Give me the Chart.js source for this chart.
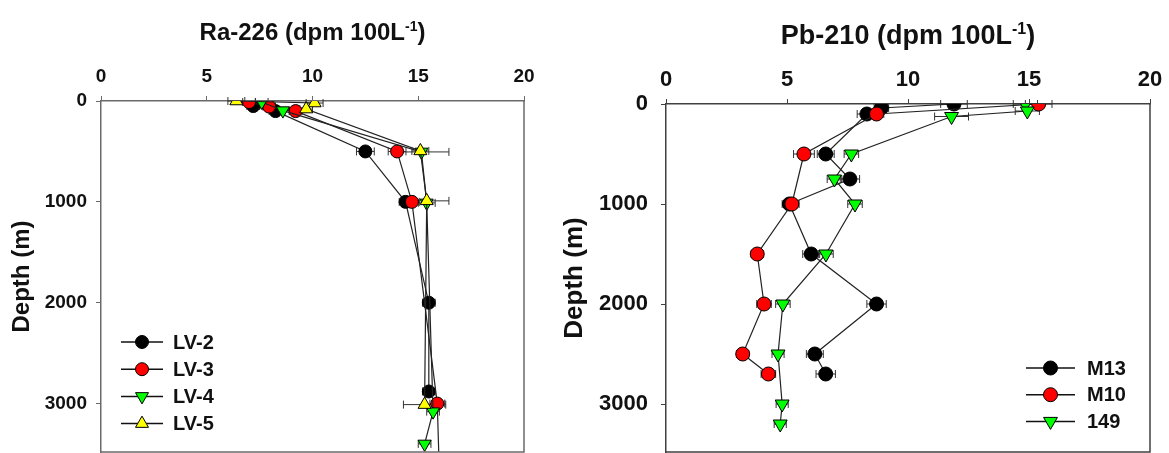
<!DOCTYPE html>
<html>
<head>
<meta charset="utf-8">
<script src="https://cdn.jsdelivr.net/npm/chart.js@4.4.0/dist/chart.umd.min.js"></script>
<style>
  html, body { margin: 0; padding: 0; background: #fff; }
  #wrap { position: relative; width: 1169px; height: 453px; overflow: hidden; }
  #leftChart { position: absolute; left: 0; top: 0; }
  #rightChart { position: absolute; left: 545px; top: 0; }
</style>
</head>
<body>
<div id="wrap">
  <canvas id="leftChart" width="545" height="453"></canvas>
  <canvas id="rightChart" width="624" height="453"></canvas>
</div>
<script>
// Axis ticks
const depthTicks = [0, 1000, 2000, 3000];
const concTicks = [0, 5, 10, 15, 20];

// Ra-226 (dpm 100L-1) profiles
const lv2Conc  = [7.2, 8.25, 12.5, 14.4, 15.5, 15.5];
const lv2Depth = [50, 100, 500, 1000, 2000, 2880];
const lv2Err   = [0.3, 0.3, 0.42, 0.3, 0.3, 0.3];

const lv3Conc  = [7.0, 7.95, 9.2, 14.0, 14.7, 15.9, 16.0];
const lv3Depth = [10, 55, 100, 500, 1000, 3000, 3700];
const lv3Err   = [0.3, 0.3, 0.3, 0.42, 0.35, 0.35, 0];

const lv4Conc  = [7.6, 8.6, 15.15, 15.4, 15.7, 15.3];
const lv4Depth = [10, 95, 505, 1010, 3080, 3400];
const lv4Err   = [0.3, 0.3, 1.3, 0.4, 0.3, 0.3];

const lv5Conc  = [6.4, 10.1, 9.7, 15.1, 15.4, 15.3];
const lv5Depth = [0, 20, 80, 495, 990, 3010];
const lv5Err   = [0.4, 0.4, 0.3, 0.4, 1.05, 1.0];

// Pb-210 (dpm 100L-1) profiles
const m13Conc  = [11.9, 8.9, 8.3, 6.6, 7.6, 5.1, 6.0, 8.7, 6.15, 6.6];
const m13Depth = [0, 40, 100, 500, 750, 1000, 1500, 2000, 2500, 2700];
const m13Err   = [0.55, 0.3, 0.4, 0.35, 0.4, 0.3, 0.35, 0.4, 0.35, 0.4];

const m10Conc  = [15.4, 8.7, 5.7, 5.2, 3.77, 4.05, 3.17, 4.23];
const m10Depth = [0, 100, 500, 1000, 1500, 2000, 2500, 2700];
const m10Err   = [0.55, 0.3, 0.43, 0.3, 0.25, 0.3, 0.25, 0.3];

const st149Conc  = [14.85, 14.93, 11.8, 7.66, 6.96, 7.81, 6.61, 4.83, 4.63, 4.8, 4.72];
const st149Depth = [0, 70, 125, 500, 750, 1000, 1500, 2000, 2500, 3000, 3200];
const st149Err   = [0.5, 0.5, 0.7, 0.3, 0.3, 0.3, 0.3, 0.3, 0.25, 0.25, 0.25];

const FONT = 'Arial, "Liberation Sans", sans-serif';
Chart.defaults.font.family = FONT;

function toPoints(conc, depth) {
  return conc.map((x, i) => ({ x: x, y: depth[i] }));
}

function makeSet(label, conc, depth, err, fill, style, rotation, order, size) {
  return {
    label: label,
    data: toPoints(conc, depth),
    errors: err,
    showLine: true,
    borderColor: '#222',
    borderWidth: 1.2,
    pointStyle: style,
    pointRotation: rotation,
    pointRadius: style === 'circle' ? size : size + 1,
    pointBackgroundColor: fill,
    pointBorderColor: '#000',
    pointBorderWidth: 1,
    order: order
  };
}

// Horizontal error bars with caps
const errorBars = {
  id: 'errorBars',
  beforeDatasetsDraw(chart) {
    const { ctx, chartArea: a, scales: { x, y } } = chart;
    ctx.save();
    ctx.beginPath();
    ctx.rect(a.left, a.top - 8, a.width, a.height + 8);
    ctx.clip();
    ctx.strokeStyle = '#333';
    ctx.lineWidth = 1;
    chart.data.datasets.forEach(ds => {
      ds.data.forEach((p, i) => {
        const e = ds.errors[i];
        if (!e) return;
        const py = y.getPixelForValue(p.y);
        const x1 = x.getPixelForValue(p.x - e);
        const x2 = x.getPixelForValue(p.x + e);
        ctx.beginPath();
        ctx.moveTo(x1, py); ctx.lineTo(x2, py);
        ctx.moveTo(x1, py - 4); ctx.lineTo(x1, py + 4);
        ctx.moveTo(x2, py - 4); ctx.lineTo(x2, py + 4);
        ctx.stroke();
      });
    });
    ctx.restore();
  }
};

// Frame, title with superscript and in-plot legend
const panelDecor = {
  id: 'panelDecor',
  afterDraw(chart, args, opts) {
    const { ctx, chartArea: a } = chart;
    ctx.save();
    ctx.strokeStyle = opts.frameColor;
    ctx.lineWidth = 1.5;
    ctx.beginPath();
    ctx.moveTo(a.right, a.top);
    ctx.lineTo(a.right, a.bottom);
    ctx.lineTo(a.left, a.bottom);
    ctx.stroke();

    // title
    const big = 'bold ' + opts.titleSize + 'px ' + FONT;
    const small = 'bold ' + Math.round(opts.titleSize * 0.58) + 'px ' + FONT;
    ctx.fillStyle = '#111';
    ctx.textBaseline = 'alphabetic';
    ctx.textAlign = 'left';
    ctx.font = big;
    const w1 = ctx.measureText(opts.title).width;
    const w3 = ctx.measureText(')').width;
    ctx.font = small;
    const w2 = ctx.measureText('-1').width;
    const tx = (a.left + a.right) / 2 - (w1 + w2 + w3) / 2;
    ctx.font = big;
    ctx.fillText(opts.title, tx, opts.titleY);
    ctx.font = small;
    ctx.fillText('-1', tx + w1, opts.titleY - opts.titleSize * 0.38);
    ctx.font = big;
    ctx.fillText(')', tx + w1 + w2, opts.titleY);

    // legend
    const lg = opts.legend;
    chart.data.datasets.forEach((ds, i) => {
      const ly = lg.y + i * lg.step;
      ctx.strokeStyle = '#111';
      ctx.lineWidth = 1.5;
      ctx.beginPath();
      ctx.moveTo(lg.x1, ly); ctx.lineTo(lg.x2, ly);
      ctx.stroke();
      ctx.fillStyle = ds.pointBackgroundColor;
      ctx.strokeStyle = '#000';
      ctx.lineWidth = 1;
      Chart.helpers.drawPoint(ctx, {
        pointStyle: ds.pointStyle,
        rotation: ds.pointRotation,
        radius: ds.pointRadius,
        borderWidth: 1
      }, (lg.x1 + lg.x2) / 2, ly);
      ctx.fillStyle = '#111';
      ctx.font = 'bold 20px ' + FONT;
      ctx.textBaseline = 'middle';
      ctx.fillText(ds.label, lg.textX, ly + 1);
    });
    ctx.restore();
  }
};

function noPad(s) {
  s.paddingTop = 0;
  s.paddingBottom = 0;
  s.paddingLeft = 0;
  s.paddingRight = 0;
}

function buildOptions(cfg) {
  return {
    responsive: false,
    animation: false,
    layout: { autoPadding: false, padding: { left: 0, right: cfg.padRight, top: 0, bottom: 1 } },
    plugins: {
      legend: { display: false },
      tooltip: { enabled: false },
      panelDecor: cfg.decor
    },
    scales: {
      x: {
        type: 'linear',
        position: 'top',
        min: 0,
        max: 20,
        afterBuildTicks: s => { s.ticks = concTicks.map(v => ({ value: v })); },
        afterFit: s => { s.height = cfg.axisTop; noPad(s); },
        ticks: { color: '#111', padding: cfg.xTickPad, font: { size: cfg.tickSize, weight: 'bold' }, callback: v => String(v) },
        grid: { drawOnChartArea: false, drawTicks: true, tickLength: 5, color: cfg.frameColor },
        border: { display: true, color: cfg.frameColor, width: 1.5 }
      },
      y: {
        type: 'linear',
        reverse: true,
        min: 0,
        max: 3480,
        afterBuildTicks: s => { s.ticks = depthTicks.map(v => ({ value: v })); },
        afterFit: s => { s.width = cfg.axisLeft; noPad(s); },
        ticks: { color: '#111', padding: cfg.yTickPad, font: { size: cfg.tickSize, weight: 'bold' }, callback: v => String(v) },
        grid: { drawOnChartArea: false, drawTicks: true, tickLength: 5, color: cfg.frameColor },
        border: { display: true, color: cfg.frameColor, width: 1.5 },
        title: {
          display: true,
          text: 'Depth (m)',
          color: '#111',
          font: { size: cfg.yTitleSize, weight: 'bold' },
          padding: { top: cfg.yTitlePad, bottom: 0 }
        }
      }
    }
  };
}

new Chart(document.getElementById('leftChart'), {
  type: 'scatter',
  data: {
    datasets: [
      makeSet('LV-2', lv2Conc, lv2Depth, lv2Err, '#000000', 'circle', 0, 4, 6.5),
      makeSet('LV-3', lv3Conc, lv3Depth, lv3Err, '#ff0000', 'circle', 0, 3, 6.5),
      makeSet('LV-4', lv4Conc, lv4Depth, lv4Err, '#00ff00', 'triangle', 180, 2, 6.5),
      makeSet('LV-5', lv5Conc, lv5Depth, lv5Err, '#ffff00', 'triangle', 0, 1, 6.5)
    ]
  },
  options: buildOptions({
    padRight: 21, axisTop: 101, axisLeft: 101, xTickPad: 8, yTickPad: 9, yTitlePad: 8,
    tickSize: 19, yTitleSize: 24,
    frameColor: '#6a6a6a',
    decor: {
      frameColor: '#6a6a6a',
      title: 'Ra-226 (dpm 100L',
      titleSize: 24,
      titleY: 40,
      legend: { x1: 121, x2: 163, textX: 173, y: 342, step: 27.2 }
    }
  }),
  plugins: [errorBars, panelDecor]
});

new Chart(document.getElementById('rightChart'), {
  type: 'scatter',
  data: {
    datasets: [
      makeSet('M13', m13Conc, m13Depth, m13Err, '#000000', 'circle', 0, 3, 7),
      makeSet('M10', m10Conc, m10Depth, m10Err, '#ff0000', 'circle', 0, 2, 7),
      makeSet('149', st149Conc, st149Depth, st149Err, '#00ff00', 'triangle', 180, 1, 7)
    ]
  },
  options: buildOptions({
    padRight: 19, axisTop: 104, axisLeft: 121, xTickPad: 6, yTickPad: 13, yTitlePad: 14,
    tickSize: 22, yTitleSize: 26,
    frameColor: '#404040',
    decor: {
      frameColor: '#404040',
      title: 'Pb-210 (dpm 100L',
      titleSize: 27,
      titleY: 44,
      legend: { x1: 481, x2: 530, textX: 542, y: 368, step: 26.7 }
    }
  }),
  plugins: [errorBars, panelDecor]
});
</script>
</body>
</html>
